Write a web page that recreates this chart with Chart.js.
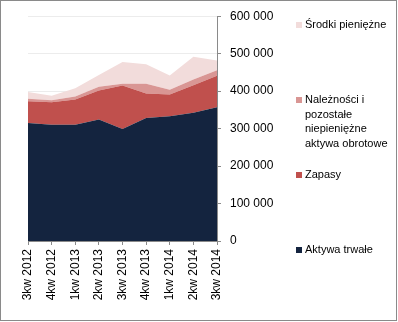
<!DOCTYPE html>
<html>
<head>
<meta charset="utf-8">
<script src="https://cdn.jsdelivr.net/npm/chart.js@4"></script>
<style>
  html, body { margin: 0; padding: 0; background: #fff; }
  #wrap { width: 398px; height: 322px; position: relative; }
</style>
</head>
<body>
<div id="wrap"><canvas id="assetsChart" width="398" height="322"></canvas></div>
<script>
const labels = ['3kw 2012', '4kw 2012', '1kw 2013', '2kw 2013', '3kw 2013', '4kw 2013', '1kw 2014', '2kw 2014', '3kw 2014'];
const aktywaTrwale = [315000, 310000, 310000, 324000, 299000, 328000, 333000, 342000, 357000];
const zapasy = [58000, 60000, 68000, 78000, 116000, 66000, 58000, 74000, 84000];
const naleznosci = [7000, 6000, 8000, 10000, 5000, 26000, 13000, 15000, 15000];
const srodki = [18000, 12000, 22000, 31000, 58000, 52000, 38000, 61000, 26000];
const yTicks = {min: 0, max: 600000, step: 100000};

const FAMILY = '"Liberation Sans", Arial, sans-serif';
const TICK_FONT = {family: FAMILY, size: 12};
const LEGEND_SIZE = 11;

const legendItems = [
    {lines: ['Środki pieniężne'], color: '#F2DCDB', y: 25},
    {lines: ['Należności i', 'pozostałe', 'niepieniężne', 'aktywa obrotowe'], color: '#D99694', y: 100},
    {lines: ['Zapasy'], color: '#C0504D', y: 175},
    {lines: ['Aktywa trwałe'], color: '#14243F', y: 250},
];

// legenda po prawej i ramka wykresu
const sideLegend = {
    id: 'sideLegend',
    afterDraw(chart) {
        const ctx = chart.ctx;
        ctx.save();
        ctx.font = LEGEND_SIZE + 'px ' + FAMILY;
        ctx.textBaseline = 'middle';
        ctx.textAlign = 'left';
        const x = chart.chartArea.right + 79;
        legendItems.forEach(item => {
            ctx.fillStyle = item.color;
            ctx.fillRect(x, item.y - 3, 6, 6);
            ctx.fillStyle = '#000';
            item.lines.forEach((line, i) => {
                ctx.fillText(line, x + 9, item.y + i * 14.7);
            });
        });
        ctx.strokeStyle = '#8a8a8a';
        ctx.lineWidth = 1;
        ctx.strokeRect(0.5, 0.5, 396, 320);
        ctx.restore();
    }
};

const areaSet = (label, data, color, fill) => ({
    label: label,
    data: data,
    backgroundColor: color,
    borderColor: color,
    borderWidth: 0,
    pointRadius: 0,
    fill: fill,
    tension: 0,
});

const config = {
    type: 'line',
    data: {
        labels: labels,
        datasets: [
            areaSet('Aktywa trwałe', aktywaTrwale, '#14243F', 'origin'),
            areaSet('Zapasy', zapasy, '#C0504D', '-1'),
            areaSet('Należności i pozostałe niepieniężne aktywa obrotowe', naleznosci, '#D99694', '-1'),
            areaSet('Środki pieniężne', srodki, '#F2DCDB', '-1'),
        ]
    },
    options: {
        responsive: false,
        animation: false,
        layout: {
            padding: {left: 28, top: 15, right: 121, bottom: 11}
        },
        plugins: {
            legend: {display: false},
            tooltip: {enabled: false},
        },
        scales: {
            x: {
                offset: false,
                grid: {
                    drawOnChartArea: false,
                    tickLength: 4,
                    tickColor: '#8a8a8a',
                },
                border: {color: '#8a8a8a'},
                ticks: {
                    autoSkip: false,
                    minRotation: 90,
                    maxRotation: 90,
                    padding: 4,
                    color: '#000',
                    font: TICK_FONT,
                },
                afterFit(scale) { scale.height = 70; },
            },
            y: {
                position: 'right',
                stacked: true,
                min: yTicks.min,
                max: yTicks.max,
                grid: {
                    color: '#ececec',
                    tickLength: 4,
                    tickColor: '#8a8a8a',
                },
                border: {color: '#8a8a8a'},
                ticks: {
                    stepSize: yTicks.step,
                    padding: 9,
                    color: '#000',
                    font: TICK_FONT,
                    callback: v => String(v).replace(/\B(?=(\d{3})+(?!\d))/g, ' '),
                },
                afterFit(scale) { scale.width = 60; },
            }
        }
    },
    plugins: [sideLegend],
};

const assetsChart = new Chart(document.getElementById('assetsChart'), config);
</script>
</body>
</html>
